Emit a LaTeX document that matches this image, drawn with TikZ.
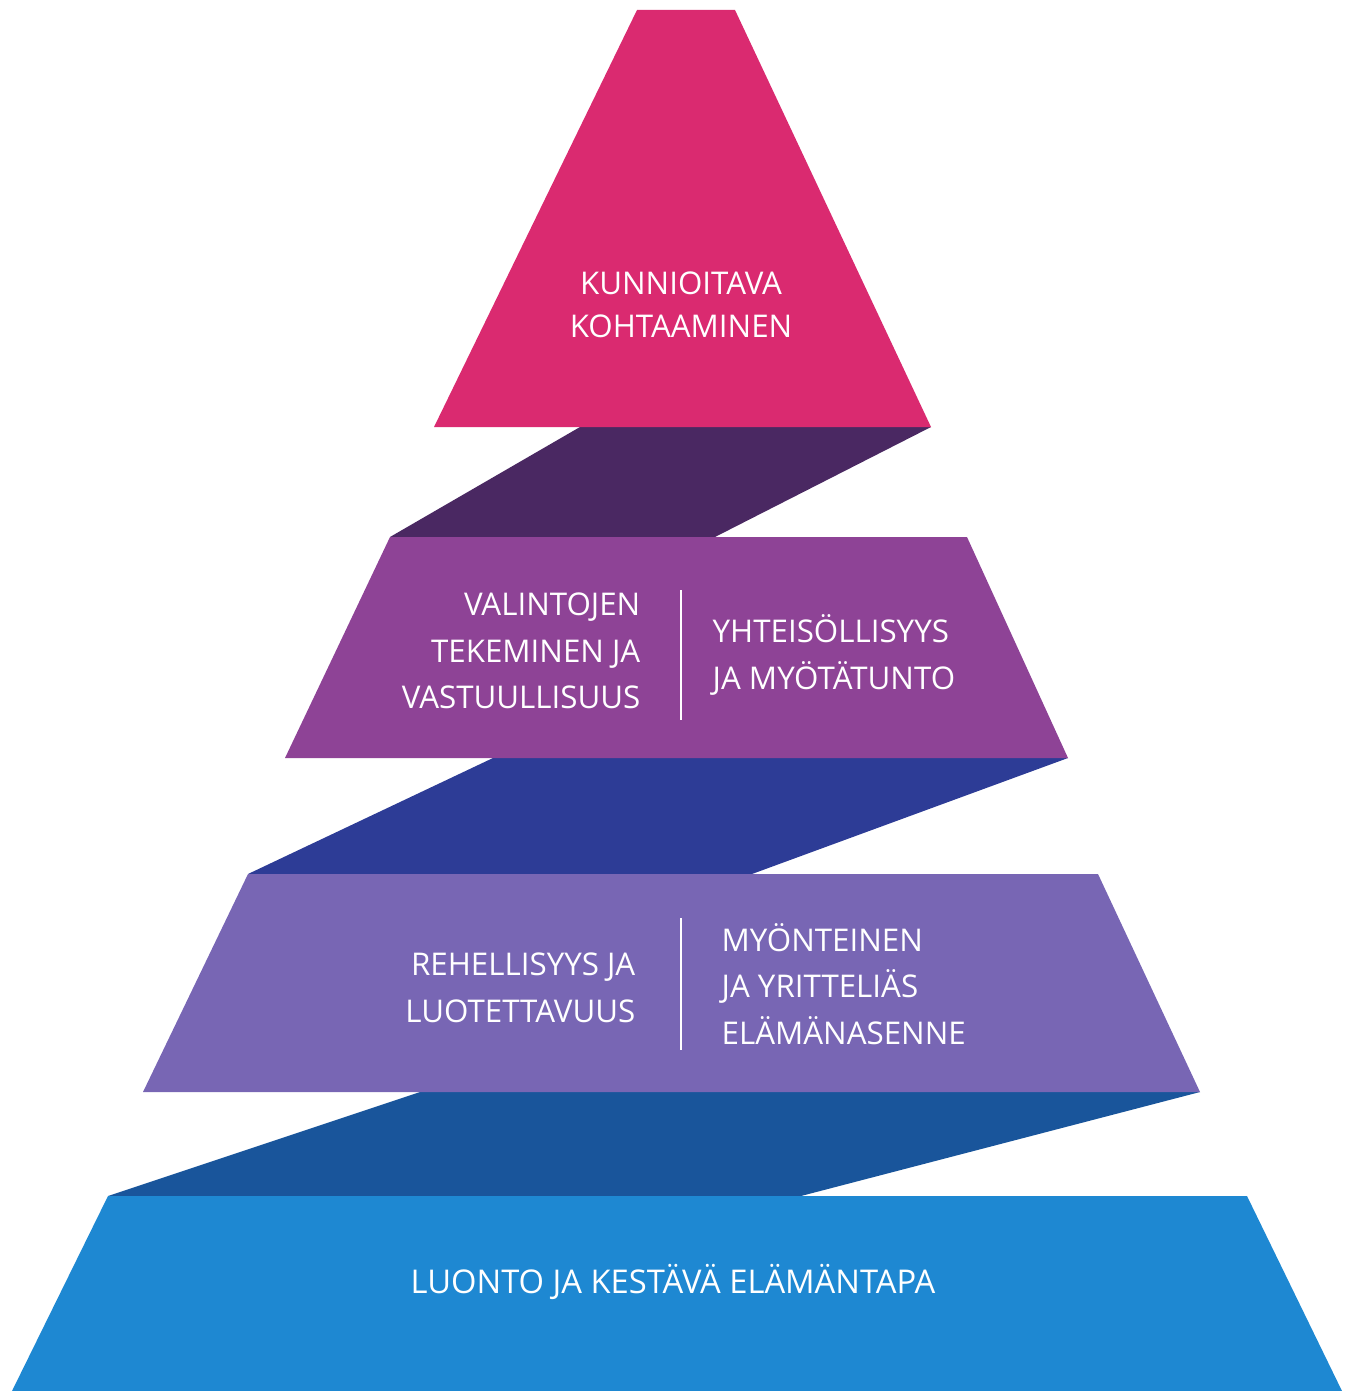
\documentclass[tikz,border=0pt]{standalone}
\usepackage{fontspec}
\setmainfont{Open Sans}
\definecolor{bandpink}{RGB}{218,42,112}
\definecolor{foldplum}{RGB}{74,40,98}
\definecolor{bandplum}{RGB}{142,67,150}
\definecolor{foldnavy}{RGB}{45,60,150}
\definecolor{bandlilac}{RGB}{120,102,180}
\definecolor{foldsea}{RGB}{25,85,155}
\definecolor{bandsky}{RGB}{30,136,210}
\tikzset{
  lbl/.style={text=white, inner sep=0pt, font=\fontsize{8.9}{13.3}\selectfont},
  sep/.style={white, line width=0.8pt},
}
\begin{document}
\begin{tikzpicture}[x=0.01cm,y=-0.01cm]
      \useasboundingbox (0,0) rectangle (1357,1391);
      % folds behind the bands
      \fill[foldplum] (580,427) -- (931,427) -- (715,537) -- (390,537) -- cycle;
      \fill[foldnavy] (493,758) -- (1068,758) -- (752,874) -- (248,874) -- cycle;
      \fill[foldsea] (420,1092) -- (1200,1092) -- (801,1196) -- (108,1196) -- cycle;
      % bands
      \fill[bandpink] (637,10) -- (735,10) -- (931,427) -- (434,427) -- cycle;
      \fill[bandplum] (390,537) -- (967,537) -- (1068,758) -- (285,758) -- cycle;
      \fill[bandlilac] (248,874) -- (1098,874) -- (1200,1092) -- (143,1092) -- cycle;
      \fill[bandsky] (108,1196) -- (1247,1196) -- (1342,1391) -- (12,1391) -- cycle;
      % texts
      \node[lbl, align=center, font=\fontsize{8.9}{12.2}\selectfont] (kunn) at (681,305) {KUNNIOITAVA\\KOHTAAMINEN};
      \node[lbl, align=right, anchor=east] (vali) at (641,651) {VALINTOJEN\\TEKEMINEN JA\\VASTUULLISUUS};
      \node[lbl, align=left, anchor=west] (yhte) at (712,655) {YHTEISÖLLISYYS\\JA MYÖTÄTUNTO};
      \node[lbl, align=right, anchor=east] (rehe) at (636,988) {REHELLISYYS JA\\LUOTETTAVUUS};
      \node[lbl, align=left, anchor=west] (myon) at (721,984) {MYÖNTEINEN\\JA YRITTELIÄS\\ELÄMÄNASENNE};
      \node[lbl, font=\fontsize{9.3}{13.3}\selectfont] (luon) at (673,1282) {LUONTO JA KESTÄVÄ ELÄMÄNTAPA};
      % dividers
      \draw[sep] (681,590) -- (681,720);
      \draw[sep] (681,918) -- (681,1050);
\end{tikzpicture}
\end{document}
